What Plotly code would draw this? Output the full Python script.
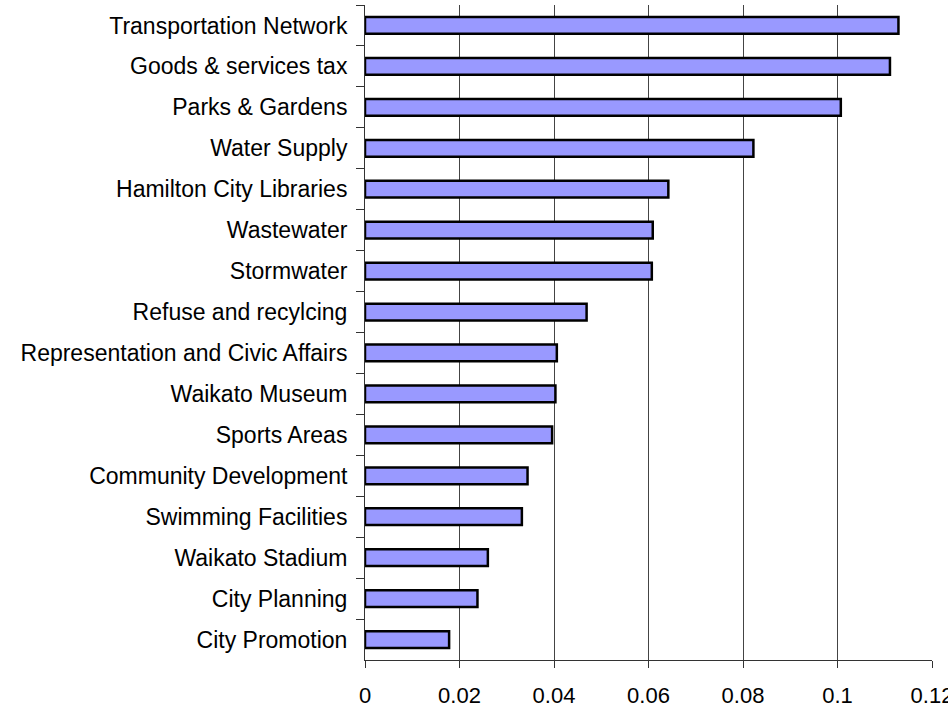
import plotly.graph_objects as go

categories = [
    "Transportation Network",
    "Goods & services tax",
    "Parks & Gardens",
    "Water Supply",
    "Hamilton City Libraries",
    "Wastewater",
    "Stormwater",
    "Refuse and recylcing",
    "Representation and Civic Affairs",
    "Waikato Museum",
    "Sports Areas",
    "Community Development",
    "Swimming Facilities",
    "Waikato Stadium",
    "City Planning",
    "City Promotion",
]
values = [0.1129, 0.1111, 0.1007, 0.0822, 0.0642, 0.0609, 0.0607, 0.0469,
          0.0406, 0.0403, 0.0396, 0.0344, 0.0332, 0.0260, 0.0238, 0.0178]
x_ticks = [0, 0.02, 0.04, 0.06, 0.08, 0.1, 0.12]
x_tick_labels = ["0", "0.02", "0.04", "0.06", "0.08", "0.1", "0.12"]

FONT = "Liberation Sans, Arial, Helvetica, sans-serif"

fig = go.Figure()
fig.add_trace(go.Bar(
    y=categories,
    x=values,
    orientation="h",
    width=0.41,
    marker=dict(color="#9999ff", line=dict(color="black", width=2.5)),
    hoverinfo="x+y",
))

fig.update_layout(
    width=948,
    height=707,
    margin=dict(l=365, r=16, t=5, b=47),
    paper_bgcolor="white",
    plot_bgcolor="white",
    showlegend=False,
    font=dict(family=FONT, size=23, color="black"),
)
fig.update_xaxes(
    range=[0, 0.12],
    tickvals=x_ticks,
    ticktext=x_tick_labels,
    showgrid=True,
    gridcolor="#444444",
    gridwidth=1,
    zeroline=False,
    showline=True,
    linecolor="#333333",
    linewidth=1,
    ticks="outside",
    ticklen=7,
    tickcolor="#333333",
    tickfont=dict(size=22, family=FONT),
    ticklabelstandoff=9,
    ticklabeloverflow="allow",
    automargin=False,
)
fig.update_yaxes(
    categoryorder="array",
    categoryarray=categories,
    autorange="reversed",
    showgrid=False,
    zeroline=False,
    showline=True,
    linecolor="#333333",
    linewidth=1,
    ticks="outside",
    tickson="boundaries",
    ticklen=8,
    tickcolor="#333333",
    tickfont=dict(size=23, family=FONT),
    ticklabelstandoff=12,
    automargin=False,
)

fig.write_html(
    "out.html",
    config={"displayModeBar": False},
    post_script="document.body.style.margin='0';document.body.style.overflow='hidden';",
)
